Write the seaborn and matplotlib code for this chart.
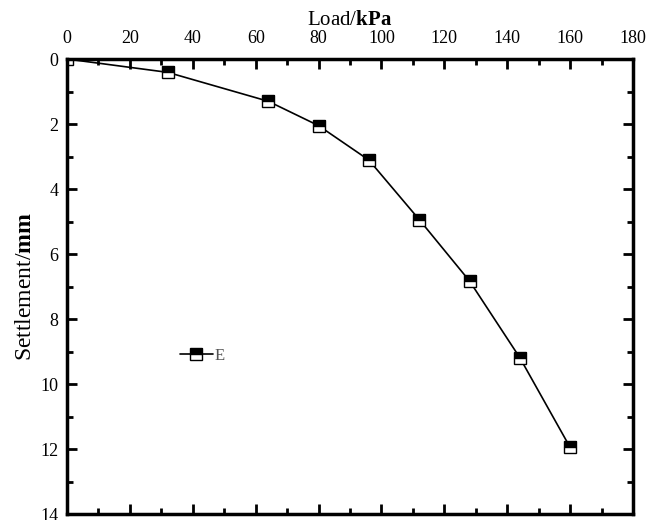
import numpy as np
import matplotlib
matplotlib.use("Agg")
import matplotlib.pyplot as plt
import seaborn as sns
from matplotlib.ticker import MultipleLocator

# values
load_kpa = [0, 32, 64, 80, 96, 112, 128, 144, 160]
settlement_mm = [0, 0.41, 1.30, 2.05, 3.11, 4.94, 6.83, 9.19, 11.95]
series_name = "E"

sns.set_theme(style="ticks")
plt.rcParams['font.family'] = ['Liberation Serif', 'DejaVu Serif']
plt.rcParams['mathtext.fontset'] = 'custom'
plt.rcParams['mathtext.rm'] = 'Liberation Serif'
plt.rcParams['mathtext.bf'] = 'Liberation Serif:bold'
plt.rcParams['text.color'] = 'black'
plt.rcParams['axes.labelcolor'] = 'black'

fig = plt.figure(figsize=(6.47, 5.2), dpi=100)
ax = fig.add_axes([0.1036, 0.0115, 0.8748, 0.875])

sns.lineplot(x=load_kpa, y=settlement_mm, ax=ax, label=series_name,
             color='black', lw=1.2, marker='s', markersize=8.5,
             fillstyle='top', markerfacecolor='black',
             markerfacecoloralt='white', markeredgecolor='black',
             markeredgewidth=1.0, sort=False)

ax.set_xlim(0, 180)
ax.set_ylim(14, 0)
ax.xaxis.set_major_locator(MultipleLocator(20))
ax.xaxis.set_minor_locator(MultipleLocator(10))
ax.yaxis.set_major_locator(MultipleLocator(2))
ax.yaxis.set_minor_locator(MultipleLocator(1))

ax.xaxis.set_label_position('top')
ax.set_xlabel(r'Load/$\mathbf{kPa}$', fontsize=15, labelpad=3)
ax.set_ylabel(r'Settlement/$\mathbf{mm}$', fontsize=17, labelpad=3)

ax.tick_params(which='both', direction='in', top=True, bottom=True,
               left=True, right=True, labeltop=True, labelbottom=False,
               labelright=False, colors='black', labelsize=13)
ax.tick_params(which='major', length=7, width=2)
ax.tick_params(which='minor', length=4, width=2)
ax.tick_params(axis='x', pad=9)
ax.tick_params(axis='y', pad=6)
for s in ax.spines.values():
    s.set_visible(True)
    s.set_linewidth(2.5)
    s.set_color('black')

leg = ax.legend(loc='center left', bbox_to_anchor=(0.184, 0.347), frameon=False,
                borderpad=0, handlelength=2.0, handletextpad=0.1, fontsize=12)
for t in leg.get_texts():
    t.set_color('#555555')

fig.savefig('out.png', dpi=100)
